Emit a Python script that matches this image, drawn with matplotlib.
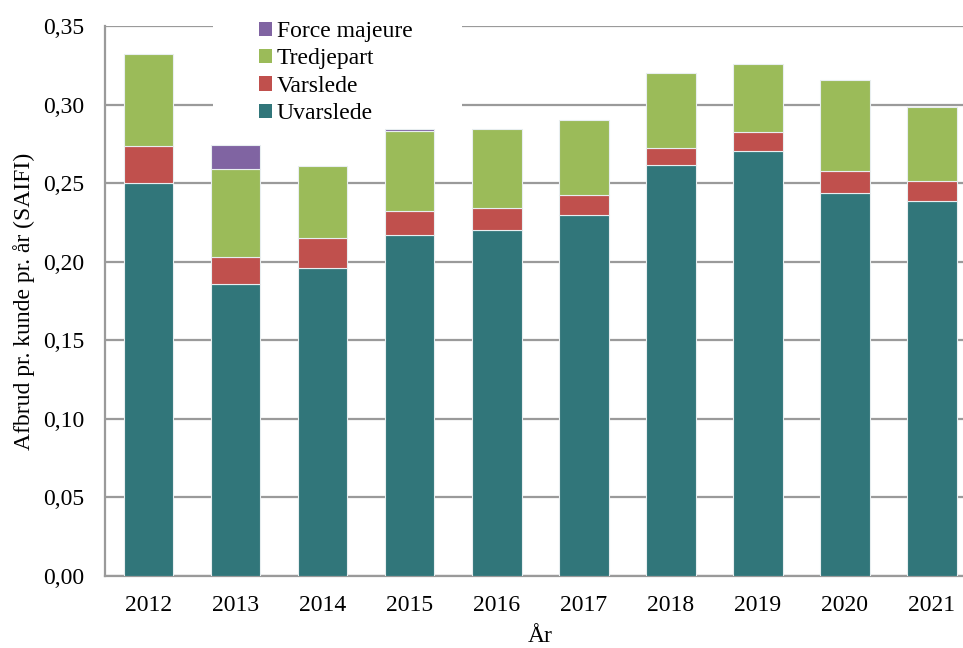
import matplotlib
matplotlib.use("Agg")
import matplotlib.pyplot as plt
from matplotlib.patches import Rectangle
import numpy as np

years = ["2012", "2013", "2014", "2015", "2016", "2017", "2018", "2019", "2020", "2021"]
uvarslede = [0.250, 0.186, 0.196, 0.217, 0.220, 0.230, 0.2615, 0.2705, 0.2437, 0.2385]
varslede = [0.0235, 0.017, 0.019, 0.0155, 0.0143, 0.0127, 0.011, 0.0123, 0.0138, 0.0129]
tredjepart = [0.0585, 0.0562, 0.0458, 0.0505, 0.0502, 0.0473, 0.0478, 0.0428, 0.0581, 0.0471]
force_majeure = [0.0, 0.0148, 0.0, 0.0015, 0.0, 0.0, 0.0, 0.0, 0.0, 0.0]
yticks = [0.00, 0.05, 0.10, 0.15, 0.20, 0.25, 0.30, 0.35]

plt.rcParams['font.family'] = ['Liberation Serif', 'DejaVu Serif']
FS = 17

fig = plt.figure(figsize=(9.63, 6.48), dpi=100)
ax = fig.add_axes([105/963, 1-576/648, (975.5-105)/963, (576-26)/648])

x = np.arange(len(years))
w = 0.57
ec = '#E8EEF0'
u = np.array(uvarslede); v = np.array(varslede); t = np.array(tredjepart); f = np.array(force_majeure)
b1 = ax.bar(x, u, w, color='#31767A', edgecolor=ec, linewidth=0.8, label='Uvarslede', zorder=3)
b2 = ax.bar(x, v, w, bottom=u, color='#C0504D', edgecolor=ec, linewidth=0.8, label='Varslede', zorder=3)
b3 = ax.bar(x, t, w, bottom=u+v, color='#9BBB59', edgecolor=ec, linewidth=0.8, label='Tredjepart', zorder=3)
fm_mask = f > 0
b4 = ax.bar(x[fm_mask], f[fm_mask], w, bottom=(u+v+t)[fm_mask], color='#8064A2', edgecolor=ec, linewidth=0.8, label='Force majeure', zorder=3)

ax.set_xlim(-0.5, 9.5)
ax.set_ylim(0, 0.35)
ax.set_yticks(yticks)
ax.set_yticklabels([f"{val:.2f}".replace('.', ',') for val in yticks], fontsize=FS)
ax.set_xticks(x)
ax.set_xticklabels(years, fontsize=FS)
ax.tick_params(axis='y', length=0, pad=15)
ax.tick_params(axis='x', length=0, pad=14)
ax.yaxis.grid(True, color='#9A9A9A', linewidth=1.6, zorder=0)
ax.set_axisbelow(True)
for s in ['top', 'right']:
    ax.spines[s].set_visible(False)
ax.spines['left'].set_color('#9A9A9A')
ax.spines['bottom'].set_color('#9A9A9A')
ax.spines['left'].set_linewidth(1.6)
ax.spines['bottom'].set_linewidth(1.6)

ax.set_ylabel('Afbrud pr. kunde pr. år (SAIFI)', fontsize=FS, labelpad=6)
ax.set_xlabel('År', fontsize=FS, labelpad=7)

# white legend background covering gridlines
ax.add_patch(Rectangle((213/963, 1-122/648), (462-213)/963, 115/648, transform=fig.transFigure,
                       facecolor='white', edgecolor='none', zorder=1.5, clip_on=False))

handles = [b4, b3, b2, b1]
leg = fig.legend(handles, [h.get_label() for h in handles], loc='upper left',
                 bbox_to_anchor=(259/963, 1-21/648), fontsize=FS, frameon=False,
                 handlelength=0.55, handleheight=0.55, handletextpad=0.2,
                 labelspacing=0.27, borderpad=0, borderaxespad=0)
for h in leg.legend_handles:
    h.set_edgecolor('none')

fig.savefig('out.png', dpi=100)
